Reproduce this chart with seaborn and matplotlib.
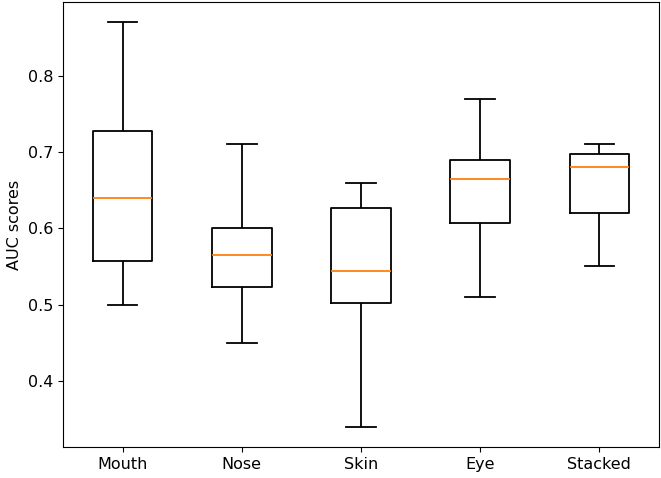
import pandas as pd
import matplotlib.pyplot as plt
import seaborn as sns

# five-number summaries (min, q1, median, q3, max)
features = ['Mouth', 'Nose', 'Skin', 'Eye', 'Stacked']
mouth = [0.50, 0.557, 0.640, 0.728, 0.87]
nose = [0.45, 0.523, 0.565, 0.601, 0.71]
skin = [0.34, 0.502, 0.544, 0.627, 0.66]
eye = [0.51, 0.607, 0.665, 0.690, 0.77]
stacked = [0.55, 0.620, 0.680, 0.698, 0.71]

scores = [mouth, nose, skin, eye, stacked]
df = pd.DataFrame({
    'feature': [f for f, s in zip(features, scores) for _ in s],
    'auc': [v for s in scores for v in s],
})

fig = plt.figure(figsize=(6.61, 4.78), dpi=100)
ax = fig.add_axes([0.0953, 0.0649, 0.9017, 0.9309])

sns.boxplot(data=df, x='feature', y='auc', order=features, ax=ax,
            width=0.5, fill=False, color='black', linewidth=1.3,
            whis=(0, 100),
            medianprops={'color': '#ff7f0e', 'linewidth': 1.3})

ax.set_xlabel('')
ax.set_ylabel('AUC scores', fontsize=11.5)
ax.tick_params(labelsize=11.5)
ax.margins(y=0.05)

plt.savefig('out.png', dpi=100)
